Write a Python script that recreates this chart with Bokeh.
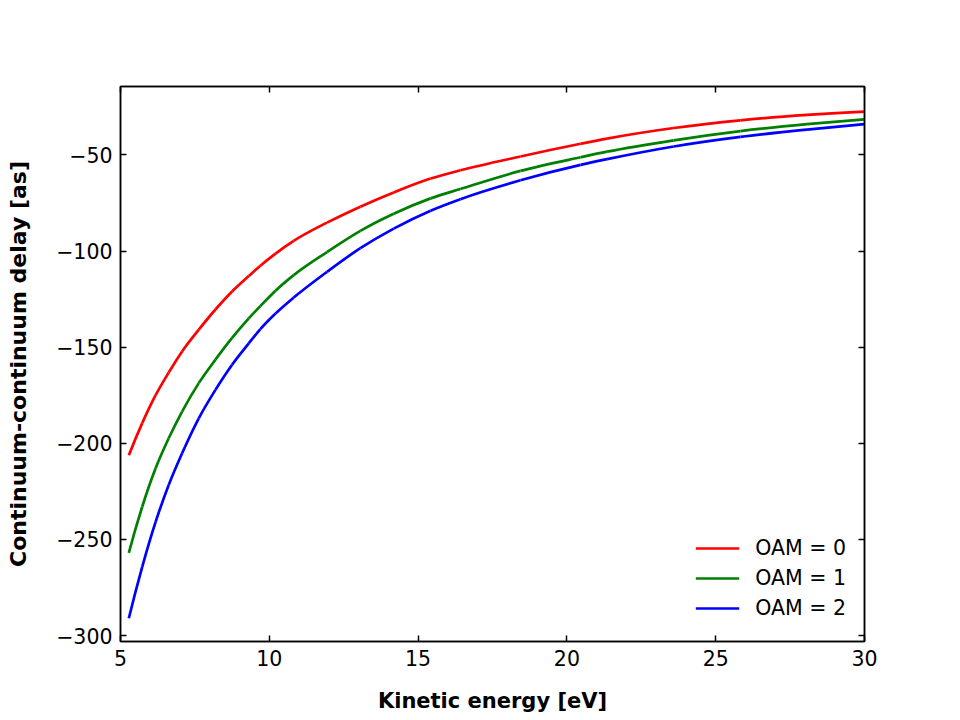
import numpy as np
from bokeh.plotting import figure
from bokeh.models import (Range1d, FixedTicker, LinearAxis, CustomJSTickFormatter,
                          Legend, LegendItem)
from bokeh.embed import file_html
from bokeh.resources import INLINE

# Kinetic energy [eV]
energy = [5.28, 5.73, 6.18, 6.62, 7.07, 7.63, 8.19, 8.75, 9.31, 9.70, 10.21, 10.82,
          11.94, 13.06, 14.18, 15.42, 16.42, 18.44, 20.46, 21.35, 23.59, 25.83,
          28.07, 30.0]
# Continuum-continuum delay [as]
oam0 = [-206.2, -189.5, -175.0, -163.2, -152.2, -140.9, -130.4, -121.0, -113.0,
        -107.6, -101.3, -94.7, -85.2, -76.9, -69.5, -62.3, -58.0, -50.8, -44.2,
        -41.5, -36.0, -32.0, -29.2, -27.5]
oam1 = [-257.0, -233.0, -213.0, -197.4, -183.5, -168.7, -156.5, -145.2, -135.0,
        -128.6, -120.6, -112.5, -100.5, -89.5, -80.6, -72.6, -67.7, -58.3, -51.2,
        -48.3, -42.4, -37.6, -34.0, -31.5]
oam2 = [-291.0, -264.3, -240.9, -221.7, -205.2, -187.0, -172.2, -159.1, -148.0,
        -140.6, -132.5, -124.2, -110.8, -98.5, -88.3, -79.0, -73.0, -63.2, -55.2,
        -52.2, -45.6, -40.6, -36.8, -34.0]

labels = ["OAM = 0", "OAM = 1", "OAM = 2"]
colors = ["#ff0000", "#008000", "#0000ff"]
x_ticks = [5, 10, 15, 20, 25, 30]
y_ticks = [-300, -250, -200, -150, -100, -50]

FONT = "DejaVu Sans"
TICK_FS = "20.5px"

p = figure(width=960, height=720, output_backend="svg", toolbar_location=None,
           x_range=Range1d(5, 30), y_range=Range1d(-303.1, -14.4),
           x_axis_location=None, y_axis_location=None,
           min_border_left=120, min_border_right=96,
           min_border_top=86, min_border_bottom=79)
p.grid.visible = False
p.background_fill_color = "white"
p.border_fill_color = "white"
p.outline_line_color = "black"
p.outline_line_width = 1.5

minus_fmt = CustomJSTickFormatter(code="return String(tick).replace('-', '\u2212');")
blank_fmt = CustomJSTickFormatter(code="return '';")


def style_axis(ax, ticks, fmt, show_labels):
    ax.ticker = FixedTicker(ticks=ticks)
    ax.formatter = fmt
    ax.minor_tick_line_color = None
    ax.major_tick_in = 6
    ax.major_tick_out = 0
    ax.major_tick_line_width = 1.5
    ax.axis_line_width = 1.5
    ax.major_label_text_font = FONT
    ax.major_label_text_font_size = TICK_FS if show_labels else "0px"
    ax.major_label_text_color = "black"
    ax.major_label_standoff = 8
    ax.axis_label_text_font = FONT
    ax.axis_label_text_font_style = "bold"
    ax.axis_label_text_color = "black"


xb = LinearAxis(axis_label="Kinetic energy [eV]")
style_axis(xb, x_ticks, minus_fmt, True)
xb.axis_label_text_font_size = "21px"
xb.axis_label_standoff = 20
p.add_layout(xb, "below")

yl = LinearAxis(axis_label="Continuum-continuum delay [as]")
style_axis(yl, y_ticks, minus_fmt, True)
yl.axis_label_text_font_size = "22px"
yl.axis_label_standoff = 22
p.add_layout(yl, "left")

xt = LinearAxis()
style_axis(xt, x_ticks, blank_fmt, False)
p.add_layout(xt, "above")

yr = LinearAxis()
style_axis(yr, y_ticks, blank_fmt, False)
p.add_layout(yr, "right")

# smooth curves through the read points (cubic Hermite segments drawn as Beziers)
ex = np.array(energy)
renderers = []
for ys, c in zip([oam0, oam1, oam2], colors):
    ey = np.array(ys)
    m = np.gradient(ey, ex, edge_order=2)
    h = np.diff(ex)
    r = p.bezier(x0=ex[:-1], y0=ey[:-1], x1=ex[1:], y1=ey[1:],
                 cx0=ex[:-1] + h / 3, cy0=ey[:-1] + m[:-1] * h / 3,
                 cx1=ex[1:] - h / 3, cy1=ey[1:] - m[1:] * h / 3,
                 line_color=c, line_width=2.7)
    renderers.append(r)

legend = Legend(items=[LegendItem(label=l, renderers=[r]) for l, r in zip(labels, renderers)],
                location="bottom_right")
legend.border_line_color = None
legend.background_fill_alpha = 0
legend.label_text_font = FONT
legend.label_text_font_size = TICK_FS
legend.label_text_color = "black"
legend.glyph_width = 44
legend.glyph_height = 30
legend.label_height = 30
legend.spacing = 0
legend.label_standoff = 16
legend.margin = 18
legend.padding = 11
p.add_layout(legend)

open("out.html", "w").write(file_html(p, INLINE))
